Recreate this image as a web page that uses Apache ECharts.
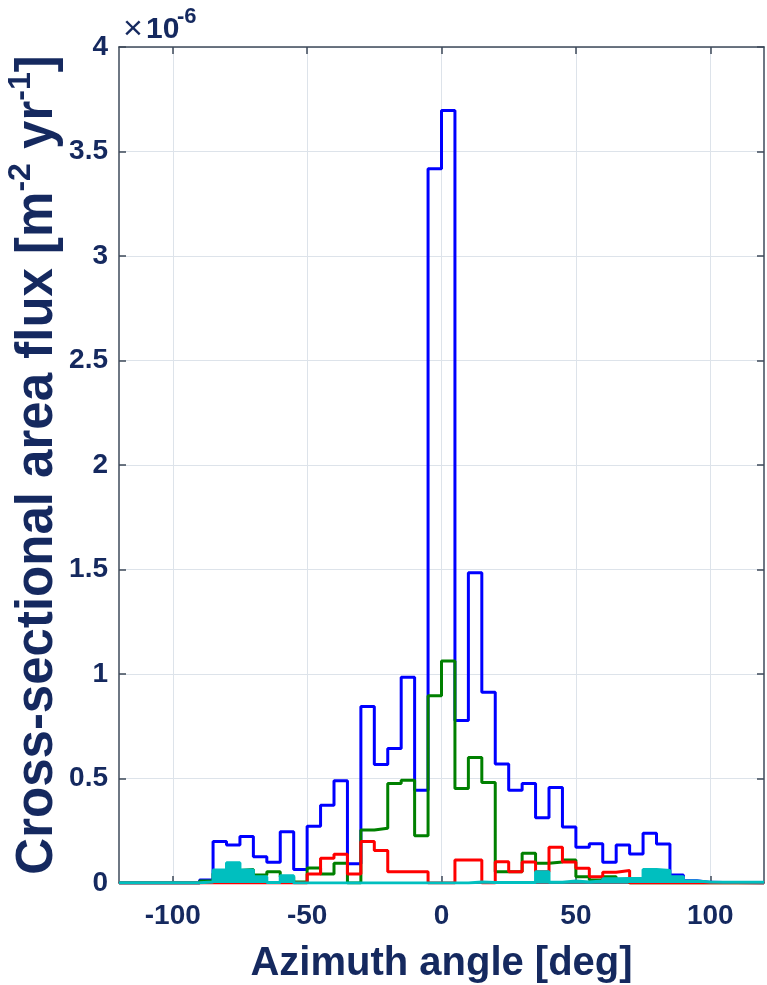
<!DOCTYPE html>
<html>
<head>
<meta charset="utf-8">
<script src="https://cdn.jsdelivr.net/npm/echarts@6/dist/echarts.min.js"></script>
<style>
  html, body { margin: 0; padding: 0; background: #fff; }
  #chart { width: 767px; height: 985px; }
</style>
</head>
<body>
<div id="chart"></div>
<script>
// 5 deg azimuth bins
const binEdges = [-120, -115, -110, -105, -100, -95, -90, -85, -80, -75, -70, -65, -60, -55, -50, -45, -40, -35, -30, -25, -20, -15, -10, -5,
  0, 5, 10, 15, 20, 25, 30, 35, 40, 45, 50, 55, 60, 65, 70, 75, 80, 85, 90, 95, 100, 105, 110, 115, 120];

// flux per bin, units of 1e-6 m^-2 yr^-1
const blueFlux = [0, 0, 0, 0, 0, 0,
  0.014, 0.198, 0.182, 0.222, 0.126, 0.099, 0.245, 0.064, 0.272, 0.372, 0.489, 0.092, 0.845, 0.567, 0.644, 0.984, 0.444, 3.418,
  3.696, 0.777, 1.484, 0.913, 0.569, 0.444, 0.476, 0.312, 0.457, 0.268, 0.171, 0.188, 0.099, 0.182, 0.139, 0.238, 0.187, 0.038,
  0.011, 0.003, 0.002, 0.002, 0.001, 0];
const greenFlux = [0, 0, 0, 0, 0, 0,
  0.01, 0.045, 0.06, 0.065, 0.038, 0.054, 0.03, 0.005, 0.072, 0.043, 0.094, 0, 0.254, 0.262, 0.476, 0.492, 0.226, 0.896,
  1.062, 0.452, 0.601, 0.481, 0.054, 0.054, 0.142, 0.094, 0.1, 0.11, 0.03, 0.014, 0.03, 0.01,
  0, 0, 0, 0, 0, 0, 0, 0, 0, 0];
const redFlux = [0, 0, 0, 0, 0, 0, 0, 0, 0, 0, 0, 0, 0, 0,
  0.043, 0.118, 0.137, 0.043, 0.198, 0.155, 0.054, 0.054, 0.054, 0,
  0, 0.11, 0.11, 0, 0.102, 0.054, 0.1, 0.054, 0.171, 0.1, 0.07, 0.03, 0.051, 0.06,
  0, 0, 0, 0, 0, 0, 0, 0, 0, 0];
const cyanFlux = [0.001, 0.001, 0.001, 0.001, 0.001, 0.001,
  0.005, 0.062, 0.097, 0.062, 0.03, 0.002, 0.035, 0, 0, 0, 0, 0, 0, 0, 0, 0, 0, 0,
  0, 0, 0.005, 0.002, 0.002, 0.002, 0.002, 0.054, 0.004, 0.01, 0.005, 0.01, 0.02, 0.022, 0.022, 0.065, 0.06, 0.03,
  0.01, 0.005, 0.003, 0.003, 0.003, 0.003];

const xTicks = [-100, -50, 0, 50, 100];

const textColor = '#15295f';
const frameColor = '#3e4a5a';
const gridColor = '#dde3ea';
const fontFam = '"Liberation Sans", Arial, Helvetica, sans-serif';

// histogram outline: left edge of each bin + closing right edge
const toSteps = vals => {
  const pts = vals.map((v, i) => [binEdges[i], v]);
  pts.push([binEdges[binEdges.length - 1], vals[vals.length - 1]]);
  return pts;
};

const stepLine = (vals, color, extra) => Object.assign({
  type: 'line',
  step: 'end',
  data: toSteps(vals),
  symbol: 'none',
  silent: true,
  animation: false,
  lineStyle: { color: color, width: 3 }
}, extra || {});

let myChart = echarts.init(document.getElementById('chart'));
myChart.setOption({
  backgroundColor: '#fff',
  animation: false,
  grid: { left: 119, right: 3, top: 47, bottom: 102, containLabel: false, outerBoundsMode: 'none' },
  graphic: [
    { type: 'text', style: { x: 123, y: 30, text: '×', fontSize: 34, fontFamily: fontFam, fill: textColor, verticalAlign: 'middle' } },
    { type: 'text', style: { x: 146, y: 30, text: '10', fontSize: 30, fontWeight: 'bold', fontFamily: fontFam, fill: textColor, verticalAlign: 'middle' } },
    { type: 'text', style: { x: 177, y: 17, text: '-6', fontSize: 22, fontWeight: 'bold', fontFamily: fontFam, fill: textColor, verticalAlign: 'middle' } }
  ],
  xAxis: [{
    type: 'value',
    min: -120,
    max: 120,
    name: 'Azimuth angle [deg]',
    nameLocation: 'middle',
    nameGap: 61,
    nameMoveOverlap: false,
    nameTextStyle: { color: textColor, fontSize: 40, fontWeight: 'bold', fontFamily: fontFam },
    axisLine: { show: true, onZero: false, lineStyle: { color: frameColor, width: 1.5 } },
    axisTick: { show: true, inside: true, length: 7, customValues: xTicks, lineStyle: { color: frameColor, width: 1.5 } },
    axisLabel: { customValues: xTicks, margin: 19, color: textColor, fontSize: 28, fontWeight: 'bold', fontFamily: fontFam },
    splitLine: { show: true, lineStyle: { color: gridColor, width: 1 } }
  }, {
    type: 'value',
    min: -120,
    max: 120,
    position: 'top',
    axisLine: { show: true, onZero: false, lineStyle: { color: frameColor, width: 1.5 } },
    axisTick: { show: true, inside: true, length: 7, customValues: xTicks, lineStyle: { color: frameColor, width: 1.5 } },
    axisLabel: { show: false },
    splitLine: { show: false }
  }],
  yAxis: [{
    type: 'value',
    min: 0,
    max: 4,
    interval: 0.5,
    name: '{t|Cross-sectional area flux [m}{s|-2}{t| yr}{s|-1}{t|]}',
    nameLocation: 'middle',
    nameGap: 56,
    nameMoveOverlap: false,
    nameTextStyle: {
      rich: {
        t: { color: textColor, fontSize: 51, fontWeight: 'bold', fontFamily: fontFam, lineHeight: 58, verticalAlign: 'bottom' },
        s: { color: textColor, fontSize: 32, fontWeight: 'bold', fontFamily: fontFam, lineHeight: 34, verticalAlign: 'top' }
      }
    },
    axisLine: { show: true, onZero: false, lineStyle: { color: frameColor, width: 1.5 } },
    axisTick: { show: true, inside: true, length: 7, lineStyle: { color: frameColor, width: 1.5 } },
    axisLabel: { margin: 11, color: textColor, fontSize: 28, fontWeight: 'bold', fontFamily: fontFam },
    splitLine: { show: true, lineStyle: { color: gridColor, width: 1 } }
  }, {
    type: 'value',
    min: 0,
    max: 4,
    interval: 0.5,
    position: 'right',
    axisLine: { show: true, onZero: false, lineStyle: { color: frameColor, width: 1.5 } },
    axisTick: { show: true, inside: true, length: 7, lineStyle: { color: frameColor, width: 1.5 } },
    axisLabel: { show: false },
    splitLine: { show: false }
  }],
  series: [
    stepLine(blueFlux, '#0000ff'),
    stepLine(greenFlux, '#008000'),
    stepLine(redFlux, '#ff0000'),
    // filled histogram sits on top of the outlines
    stepLine(cyanFlux, '#00bfbf', { zlevel: 1, z: 5, lineStyle: { color: '#00bfbf', width: 3 }, areaStyle: { color: '#00bfbf', opacity: 1 } })
  ]
});
</script>
</body>
</html>
